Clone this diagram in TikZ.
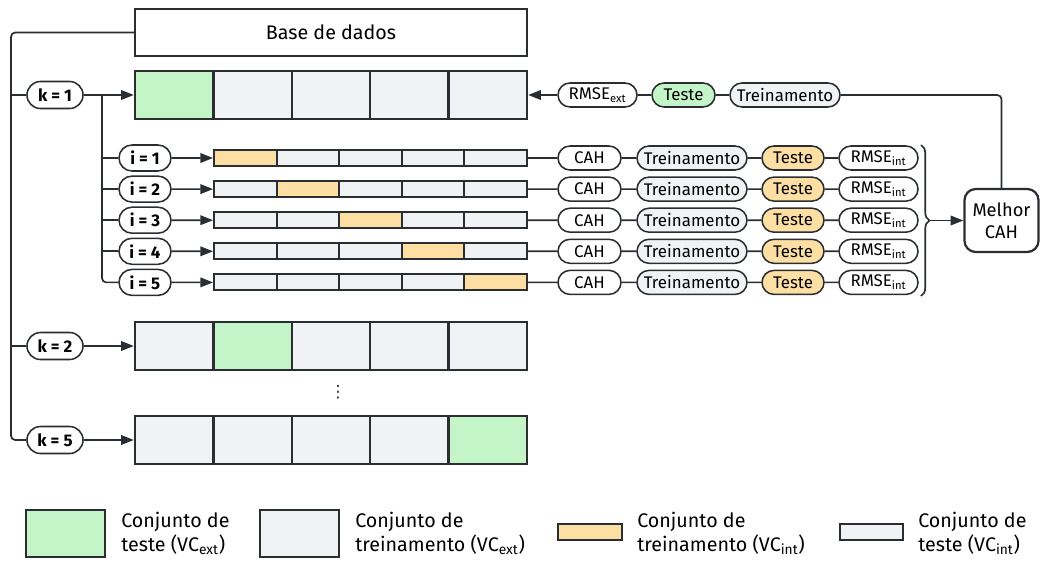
\documentclass[tikz,border=0pt]{standalone}
\usepackage{fontspec}
\setmainfont{Fira Sans}
\newfontfamily\symfont{DejaVu Sans}
\usepackage{tikz}
\usetikzlibrary{arrows.meta,shapes.misc,decorations.pathreplacing,positioning}
\definecolor{ink}{RGB}{42,45,50}
\definecolor{tstgreen}{RGB}{195,245,200}
\definecolor{trngray}{RGB}{241,242,244}
\definecolor{tstorange}{RGB}{253,223,163}

\begin{document}
\begin{tikzpicture}[x=0.025cm,y=-0.025cm,
  line/.style={draw=ink,line width=1.2pt},
  arr/.style={line,-{Triangle[length=0.32cm,width=0.24cm]}},
  box/.style={draw=ink,line width=1.6pt,inner sep=0pt,fill=white,font=\fontsize{14}{17}\selectfont},
  bigcell/.style={draw=ink,line width=1.6pt,minimum width=1.96cm,minimum height=1.2cm,inner sep=0pt},
  smallcell/.style={draw=ink,line width=1.3pt,minimum width=1.565cm,minimum height=0.4cm,inner sep=0pt},
  pill/.style={draw=ink,line width=1.1pt,rounded rectangle,minimum height=0.6cm,inner sep=0pt,fill=white,font=\fontsize{12}{14}\selectfont},
  kpill/.style={pill,minimum width=1.4cm,minimum height=0.675cm,font=\bfseries\fontsize{12}{14}\selectfont},
  ipill/.style={pill,minimum width=1.3cm,minimum height=0.65cm,font=\bfseries\fontsize{12}{14}\selectfont},
  legbox/.style={draw=ink,line width=1.6pt,inner sep=0pt},
  legtext/.style={anchor=west,align=left,inner sep=0pt,font=\fontsize{14}{17}\selectfont}]
\useasboundingbox (0,0) rectangle (1040,560);

\node[box,minimum width=9.8cm,minimum height=1.175cm] (base) at (331,32.5) {Base de dados};

% external folds
\foreach \kk/\yy in {1/95,2/346,5/440}{
  \foreach \j in {1,...,5}{
    \ifnum\j=\kk \def\cf{tstgreen}\else \def\cf{trngray}\fi
    \node[bigcell,fill=\cf] (k\kk c\j) at (95.8+78.4*\j,\yy) {};
  }
  \node[kpill] (k\kk) at (55,\yy) {k = \kk};
  \draw[arr] (k\kk) -- (k\kk c1);
}
\node[font=\symfont\fontsize{12}{14}\selectfont,text=ink] (dots) at (338,392) {⋮};

% internal folds
\foreach \i in {1,...,5}{
  \pgfmathsetmacro\yy{126.9+31.1*\i}
  \foreach \j in {1,...,5}{
    \ifnum\j=\i \def\cf{tstorange}\else \def\cf{trngray}\fi
    \node[smallcell,fill=\cf] (i\i c\j) at (182.7+62.6*\j,\yy) {};
  }
  \node[ipill] (i\i) at (145,\yy) {i = \i};
  \node[pill,minimum width=1.575cm] (cah\i) at (589.5,\yy) {CAH};
  \node[pill,minimum width=2.75cm,fill=trngray] (tr\i) at (692,\yy) {Treinamento};
  \node[pill,minimum width=1.55cm,fill=tstorange] (te\i) at (793,\yy) {Teste};
  \node[pill,minimum width=1.975cm] (rm\i) at (878.5,\yy) {RMSE\textsubscript{int}};
  \draw[arr] (i\i) -- (i\i c1);
  \draw[line] (i\i c5) -- (cah\i) -- (tr\i) -- (te\i) -- (rm\i);
}

% trunk lines
\coordinate (tk) at (11,0);
\coordinate (ib) at (102,0);
\draw[line,rounded corners=3pt] (base.west) -- (base.west -| tk) -- (k5 -| tk) -- (k5);
\draw[line] (k1 -| tk) -- (k1);
\draw[line] (k2 -| tk) -- (k2);
\draw[line,rounded corners=3pt] (k1 -| ib) -- (i5 -| ib) -- (i5);
\foreach \i in {1,...,4}
  \draw[line] (i\i -| ib) -- (i\i);

% best model
\node[box,rounded corners=8pt,minimum width=1.85cm,minimum height=1.575cm,align=center,font=\fontsize{13}{16}\selectfont] (best) at (1001.5,220.5) {Melhor\\CAH};
\coordinate (bt) at (921,145);
\coordinate (bb) at (921,296);
\coordinate (btip) at (930,220.5);
\draw[line,decorate,decoration={brace,amplitude=6pt}] (bt) -- (bb);
\draw[arr] (btip) -- (best);

% external evaluation
\node[pill,minimum width=2.75cm,fill=trngray] (trext) at (785,95) {Treinamento};
\node[pill,minimum width=1.575cm,fill=tstgreen] (teext) at (683.5,95) {Teste};
\node[pill,minimum width=1.975cm] (rmext) at (597.5,95) {RMSE\textsubscript{ext}};
\draw[line,rounded corners=3pt] (best.north) |- (trext);
\draw[line] (trext) -- (teext);
\draw[line] (teext) -- (rmext);
\draw[arr] (rmext) -- (k1c5);

% legend
\node[legbox,fill=tstgreen,minimum width=1.975cm,minimum height=1.175cm] (lg1) at (65.5,533.5) {};
\node[legtext] (lt1) at (121,533.5) {Conjunto de\\teste (VC\textsubscript{ext})};
\node[legbox,fill=trngray,minimum width=1.975cm,minimum height=1.175cm] (lg2) at (299.5,533.5) {};
\node[legtext] (lt2) at (355,533.5) {Conjunto de\\treinamento (VC\textsubscript{ext})};
\node[legbox,fill=tstorange,minimum width=1.6cm,minimum height=0.4cm] (lg3) at (590,532) {};
\node[legtext] (lt3) at (637,533.5) {Conjunto de\\treinamento (VC\textsubscript{int})};
\node[legbox,fill=trngray,minimum width=1.575cm,minimum height=0.4cm] (lg4) at (871.5,532) {};
\node[legtext] (lt4) at (918,533.5) {Conjunto de\\teste (VC\textsubscript{int})};
\end{tikzpicture}
\end{document}
